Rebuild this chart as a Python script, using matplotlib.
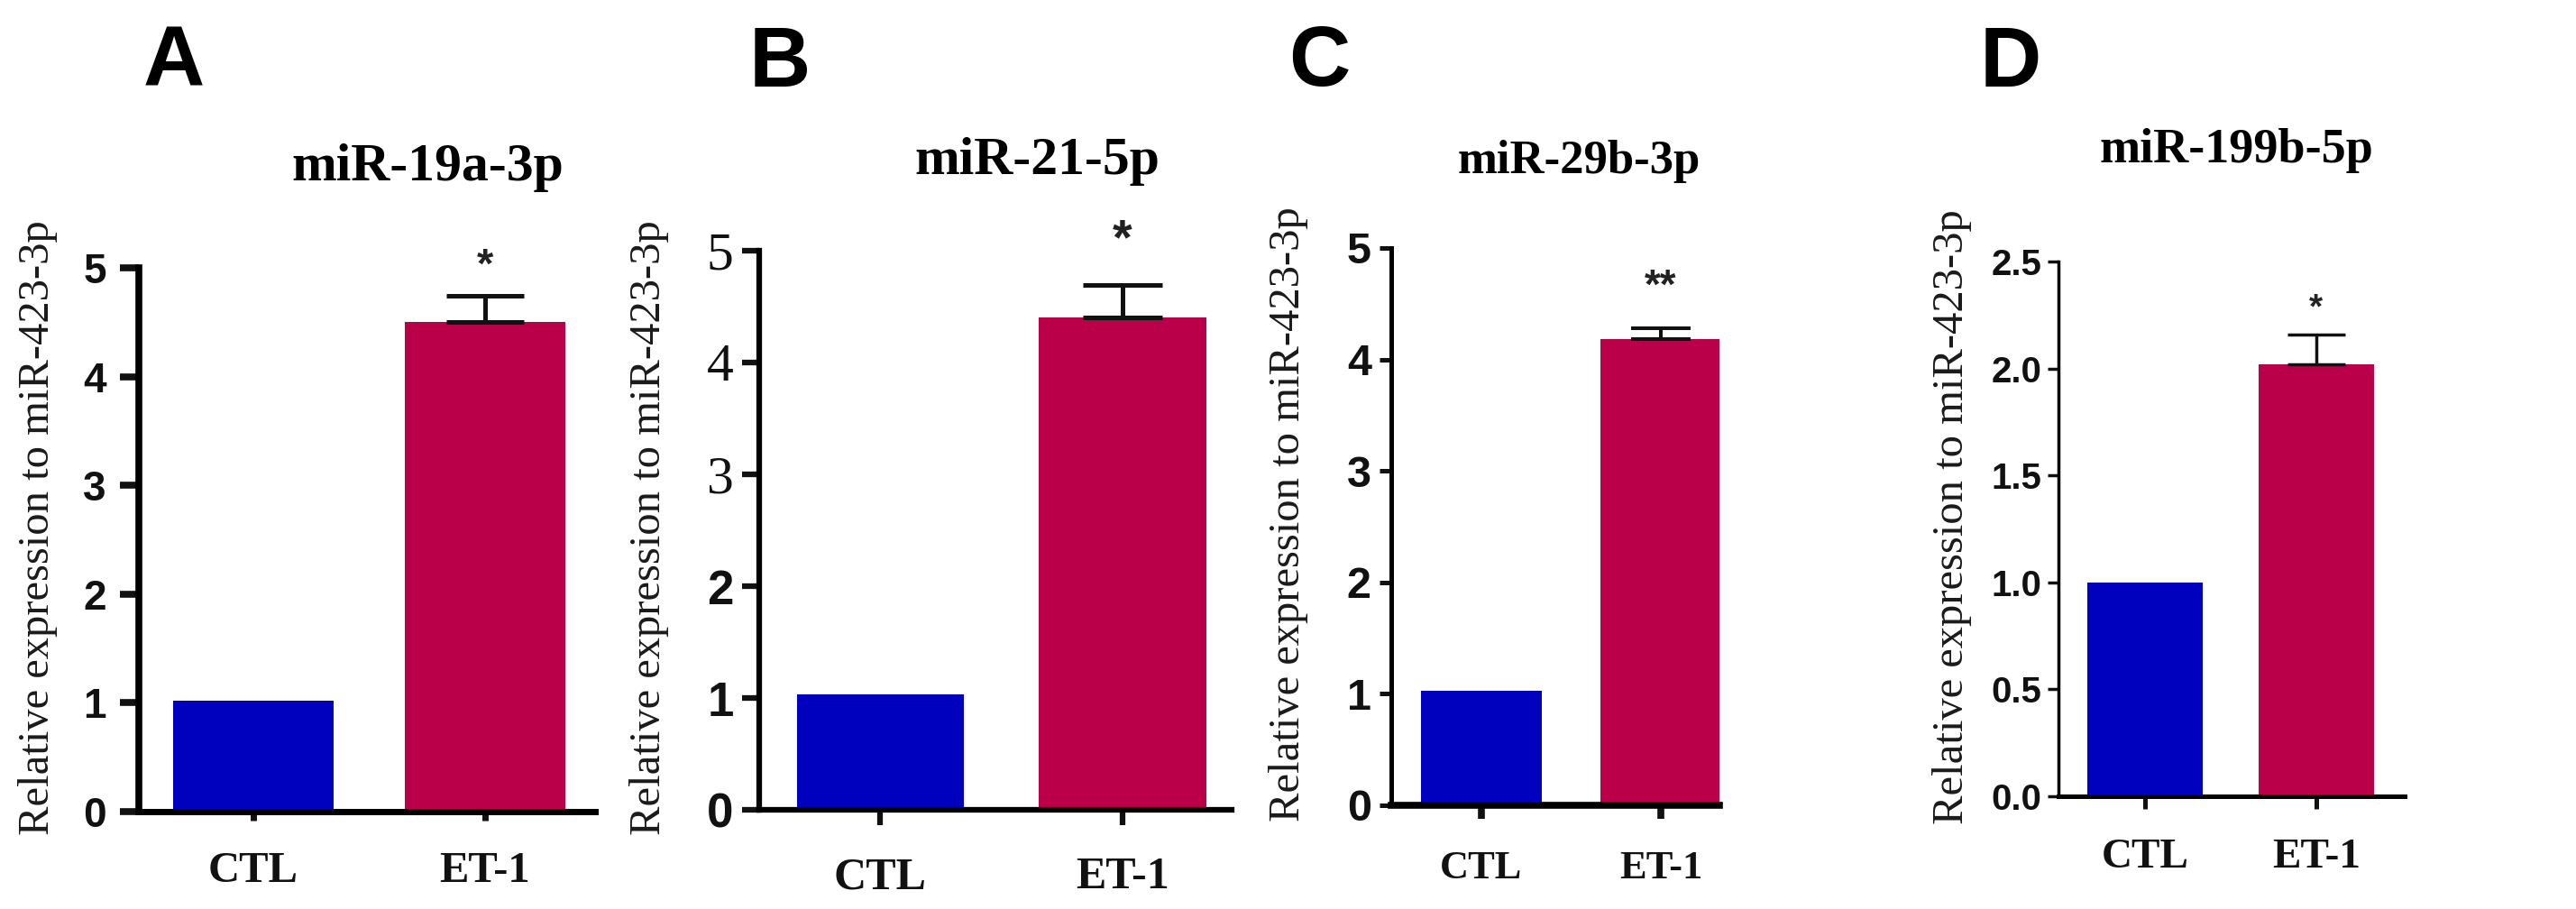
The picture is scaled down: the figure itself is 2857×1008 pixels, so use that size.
import matplotlib
matplotlib.use('Agg')
import matplotlib.pyplot as plt
from matplotlib import font_manager

# data
panel_letters = ['A', 'B', 'C', 'D']
mirnas = ['miR-19a-3p', 'miR-21-5p', 'miR-29b-3p', 'miR-199b-5p']
groups = ['CTL', 'ET-1']
ctl_values = [1.02, 1.03, 1.03, 1.00]
et1_values = [4.50, 4.40, 4.18, 2.02]
et1_sem = [0.24, 0.29, 0.10, 0.14]
stars = ['*', '*', '**', '*']
y_max = [5, 5, 5, 2.5]
y_ticks = [[0, 1, 2, 3, 4, 5], [0, 1, 2, 3, 4, 5], [0, 1, 2, 3, 4, 5],
           [0, 0.5, 1.0, 1.5, 2.0, 2.5]]
y_ticklabels = [['0', '1', '2', '3', '4', '5'], ['0', '1', '2', '3', '4', '5'],
                ['0', '1', '2', '3', '4', '5'],
                ['0.0', '0.5', '1.0', '1.5', '2.0', '2.5']]
ylabel = 'Relative expression to miR-423-3p'

W, H = 2857, 1008
names = {f.name for f in font_manager.fontManager.ttflist}
narrow = 'Liberation Sans Narrow' if 'Liberation Sans Narrow' in names else 'Liberation Sans'

blue = '#0000BF'
red = '#BA0048'

# layout in pixels: left, right, zero line, top of y axis
boxes = [(154, 660, 900, 297), (842, 1366, 898, 278),
         (1543, 1907, 893, 275), (2283, 2667, 883, 290)]
xlims = [(-0.494, 1.475), (-0.50, 1.45), (-0.5025, 1.327), (-0.505, 1.516)]
bar_w = [0.69, 0.69, 0.675, 0.675]
cap_pt = [31, 32, 24, 23]
err_lw = [3.6, 3.6, 2.9, 2.5]
spine_y = [5.5, 4.5, 3.6, 2.5]
spine_x = [5.0, 4.5, 5.5, 3.6]
ytick_len = [15, 14, 9.5, 8.5]
xtick_len = [7, 12, 11, 10]
ytick_font = [(('Liberation Sans', 'bold', 33),) * 6,
              (('Liberation Sans', 'bold', 38),) * 3 + (('Liberation Serif', 'normal', 43),) * 3,
              ((narrow, 'bold', 35),) * 6,
              ((narrow, 'bold', 29),) * 6]
ytick_pad = [11, 6.5, 6.5, 5]
xtick_size = [35, 36, 32, 34]
xtick_pad = [24.5, 25.5, 25, 24]
title_pos = [(474, 200, 43), (1150, 193, 43), (1751, 192, 38), (2480, 180, 39)]
ylabel_pos = [(42, 585), (720, 585), (1429, 570), (2165, 573)]
letter_pos = [(193, 71), (865, 71), (1463, 71), (2230, 71)]
star_size = [34, 40, 33, 28]
star_off = [8, 17, 17, 7]

fig = plt.figure(figsize=(W / 100, H / 100), dpi=100)
fig.patch.set_facecolor('white')

for i in range(4):
    left, right, y0, ytop = boxes[i]
    ax = fig.add_axes([left / W, 1 - y0 / H, (right - left) / W, (y0 - ytop) / H])
    x = [0, 1]
    ax.bar(x, [ctl_values[i], et1_values[i]], width=bar_w[i], color=[blue, red],
           edgecolor='none', zorder=2)
    ax.errorbar(1, et1_values[i], yerr=[[0], [et1_sem[i]]], fmt='none',
                ecolor='#111111', elinewidth=err_lw[i], capsize=cap_pt[i],
                capthick=err_lw[i], zorder=3)
    ax.annotate(stars[i], xy=(1, et1_values[i] + et1_sem[i]), xytext=(0, star_off[i]),
                textcoords='offset points', ha='center', va='bottom',
                fontsize=star_size[i], fontfamily='Liberation Sans', fontweight='bold',
                color='#222222', annotation_clip=False)

    ax.set_xlim(*xlims[i])
    ax.set_ylim(0, y_max[i])
    for s in ['top', 'right']:
        ax.spines[s].set_visible(False)
    ax.spines['left'].set_linewidth(spine_y[i])
    ax.spines['bottom'].set_linewidth(spine_x[i])
    ax.spines['left'].set_capstyle('projecting')
    ax.spines['bottom'].set_capstyle('projecting')

    ax.set_yticks(y_ticks[i])
    ax.set_yticklabels(y_ticklabels[i])
    for lab, (fam, wt, sz) in zip(ax.get_yticklabels(), ytick_font[i]):
        lab.set_fontfamily(fam)
        lab.set_fontweight(wt)
        lab.set_fontsize(sz)
    ax.tick_params(axis='y', direction='out', length=ytick_len[i], width=spine_y[i],
                   pad=ytick_pad[i], colors='#111111')

    ax.set_xticks(x)
    ax.set_xticklabels(groups, fontfamily='Liberation Serif', fontweight='bold',
                       fontsize=xtick_size[i])
    ax.tick_params(axis='x', direction='out', length=xtick_len[i], width=spine_x[i],
                   pad=xtick_pad[i], colors='#111111')

    tx, ty, tsz = title_pos[i]
    fig.text(tx / W, 1 - ty / H, mirnas[i], ha='center', va='baseline',
             fontfamily='Liberation Serif', fontweight='bold', fontsize=tsz)
    lx, ly = ylabel_pos[i]
    fig.text(lx / W, 1 - ly / H, ylabel, rotation=90, ha='center', va='center',
             fontfamily='Liberation Serif', fontsize=35, color='#1a1a1a')
    px, py = letter_pos[i]
    fig.text(px / W, 1 - py / H, panel_letters[i], ha='center', va='center',
             fontfamily='Liberation Sans', fontweight='bold', fontsize=68)

fig.savefig('out.png', dpi=100, facecolor='white')
